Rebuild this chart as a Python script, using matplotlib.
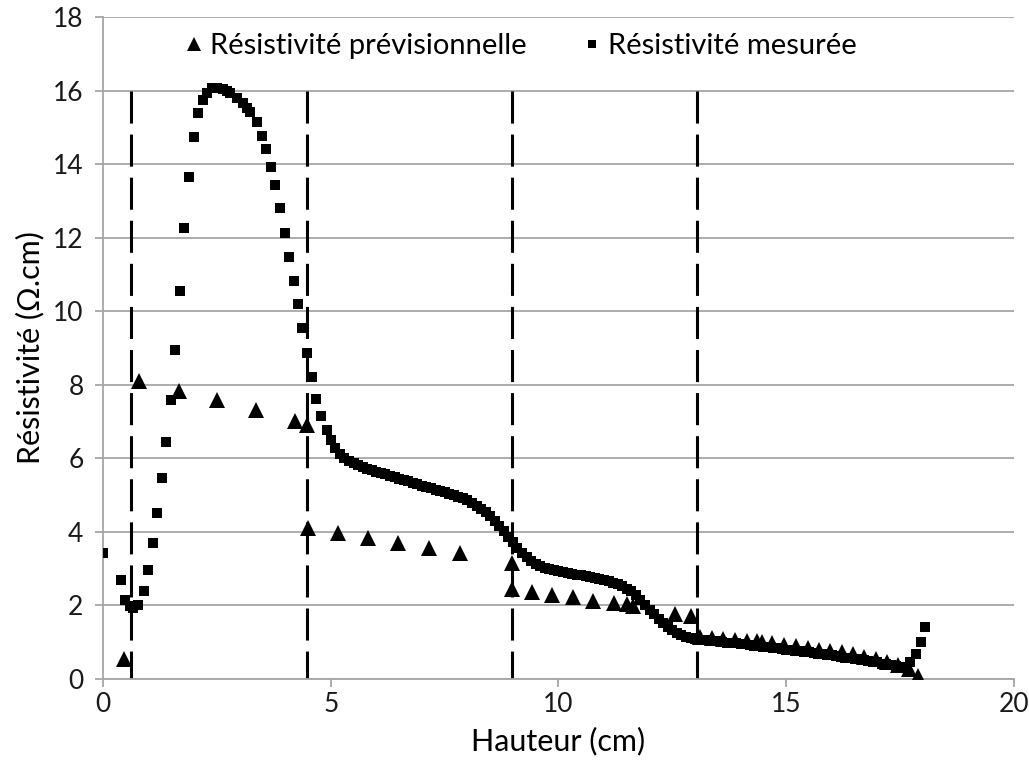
import matplotlib
matplotlib.use('Agg')
import matplotlib.pyplot as plt

plt.rcParams['font.family'] = ['Lato', 'DejaVu Sans']

# Résistivité prévisionnelle (triangles)
prev_x = [0.46, 0.79, 1.67, 2.50, 3.36, 4.21, 4.48, 4.50, 5.16, 5.82, 6.48, 7.16, 7.84,
          8.98, 8.98, 9.42, 9.86, 10.32, 10.76, 11.22, 11.50, 11.64, 12.56, 12.90,
          13.10, 13.37, 13.61, 13.87, 14.14, 14.36, 14.47, 14.69, 14.95, 15.21, 15.48,
          15.72, 15.96, 16.22, 16.46, 16.71, 16.97, 17.21, 17.46, 17.70, 17.90]
prev_y = [0.55, 8.10, 7.83, 7.59, 7.31, 7.01, 6.90, 4.10, 3.98, 3.84, 3.71, 3.56, 3.43,
          3.15, 2.45, 2.36, 2.29, 2.22, 2.13, 2.07, 2.03, 1.98, 1.77, 1.70,
          1.13, 1.11, 1.09, 1.07, 1.04, 1.02, 1.00, 0.97, 0.93, 0.89, 0.85,
          0.80, 0.76, 0.72, 0.67, 0.61, 0.54, 0.47, 0.38, 0.28, 0.08]

# Résistivité mesurée (squares)
mes_x = [0.00, 0.40, 0.48, 0.60, 0.66, 0.77, 0.90, 0.99, 1.10, 1.19, 1.30, 1.38, 1.49,
         1.58, 1.69, 1.78, 1.89, 2.00, 2.09, 2.20, 2.28, 2.39, 2.50, 2.63, 2.72, 2.79,
         2.94, 3.07, 3.16, 3.23, 3.38, 3.49, 3.58, 3.69, 3.78, 3.89, 4.00, 4.08, 4.19,
         4.28, 4.37, 4.48, 4.59, 4.68, 4.79, 4.92,
         5.0, 5.1, 5.2, 5.3, 5.4, 5.5, 5.6, 5.7, 5.8, 5.9,
         6.0, 6.1, 6.2, 6.3, 6.4, 6.5, 6.6, 6.7, 6.8, 6.9,
         7.0, 7.1, 7.2, 7.3, 7.4, 7.5, 7.6, 7.7, 7.8, 7.9,
         8.0, 8.1, 8.2, 8.3, 8.4, 8.5, 8.6, 8.7, 8.8, 8.9,
         9.0, 9.1, 9.2, 9.3, 9.4, 9.5, 9.6, 9.7, 9.8, 9.9,
         10.0, 10.1, 10.2, 10.3, 10.4, 10.5, 10.6, 10.7, 10.8, 10.9,
         11.0, 11.1, 11.2, 11.3, 11.4, 11.5, 11.6, 11.7, 11.8, 11.9,
         12.0, 12.1, 12.2, 12.3, 12.4, 12.5, 12.6, 12.7, 12.8, 12.9,
         13.0, 13.1, 13.2, 13.3, 13.4, 13.5, 13.6, 13.7, 13.8, 13.9,
         14.0, 14.1, 14.2, 14.3, 14.4, 14.5, 14.6, 14.7, 14.8, 14.9,
         15.0, 15.1, 15.2, 15.3, 15.4, 15.5, 15.6, 15.7, 15.8, 15.9,
         16.0, 16.1, 16.2, 16.3, 16.4, 16.5, 16.6, 16.7, 16.8, 16.9,
         17.0, 17.1, 17.2, 17.3, 17.4, 17.5, 17.6, 17.72, 17.84, 17.95, 18.05]
mes_y = [3.43, 2.69, 2.15, 1.98, 1.93, 2.01, 2.39, 2.96, 3.70, 4.51, 5.47, 6.44, 7.59,
         8.95, 10.55, 12.26, 13.65, 14.74, 15.39, 15.74, 15.93, 16.08, 16.08, 16.05, 15.98, 15.93,
         15.80, 15.66, 15.52, 15.42, 15.15, 14.76, 14.41, 13.92, 13.43, 12.81, 12.13, 11.47, 10.82,
         10.20, 9.54, 8.86, 8.20, 7.60, 7.15, 6.77,
         6.50, 6.28, 6.12, 6.01, 5.93, 5.87, 5.81, 5.76, 5.72, 5.68,
         5.64, 5.60, 5.56, 5.52, 5.49, 5.45, 5.41, 5.37, 5.33, 5.30,
         5.26, 5.22, 5.19, 5.15, 5.12, 5.08, 5.04, 5.00, 4.96, 4.91,
         4.86, 4.79, 4.71, 4.62, 4.53, 4.42, 4.29, 4.16, 4.02, 3.87,
         3.72, 3.57, 3.43, 3.31, 3.21, 3.13, 3.07, 3.03, 2.99, 2.96,
         2.93, 2.91, 2.88, 2.86, 2.84, 2.82, 2.79, 2.77, 2.74, 2.72,
         2.69, 2.66, 2.62, 2.58, 2.53, 2.46, 2.38, 2.27, 2.14, 2.00,
         1.88, 1.76, 1.64, 1.52, 1.42, 1.33, 1.26, 1.20, 1.15, 1.11,
         1.09, 1.07, 1.06, 1.05, 1.03, 1.02, 1.01, 0.99, 0.98, 0.97,
         0.95, 0.94, 0.92, 0.91, 0.89, 0.88, 0.86, 0.85, 0.83, 0.82,
         0.80, 0.79, 0.77, 0.76, 0.74, 0.72, 0.71, 0.69, 0.68, 0.66,
         0.64, 0.62, 0.60, 0.58, 0.56, 0.55, 0.53, 0.51, 0.49, 0.47,
         0.45, 0.42, 0.40, 0.37, 0.35, 0.32, 0.31, 0.45, 0.68, 1.00, 1.42]

# zone boundaries (dashed verticals)
limites = [0.615, 4.48, 8.98, 13.04]
limite_haut = 16

fig = plt.figure(figsize=(10.29, 7.72), dpi=100)
ax = fig.add_axes([0.1001, 0.1205, 0.8853, 0.8575])

for xl in limites:
    ax.plot([xl, xl], [limite_haut, 0], color='black', lw=2.2,
            linestyle=(0, (10.5, 3.6)), zorder=2)

ax.plot(prev_x, prev_y, linestyle='none', marker='^', ms=12, color='black',
        mew=0, label='Résistivité prévisionnelle', zorder=3)
ax.plot(mes_x, mes_y, linestyle='none', marker='s', ms=7, color='black',
        mew=0, label='Résistivité mesurée', zorder=3)

ax.set_xlim(0, 20)
ax.set_ylim(0, 18)
ax.set_xticks([0, 5, 10, 15, 20])
ax.set_yticks(range(0, 19, 2))
ax.grid(axis='y', color='#a6a6a6', lw=1.3)
ax.set_axisbelow(True)

for s in ['top', 'right']:
    ax.spines[s].set_visible(False)
for s in ['left', 'bottom']:
    ax.spines[s].set_color('#a6a6a6')
    ax.spines[s].set_linewidth(1.3)
ax.tick_params(axis='both', colors='#a6a6a6', labelcolor='#1a1a1a', labelsize=19,
               length=6, width=1.3)
ax.tick_params(axis='y', pad=8)

ax.set_xlabel('Hauteur (cm)', fontsize=22, labelpad=7)
ax.set_ylabel('Résistivité (Ω.cm)', fontsize=22, labelpad=6)

leg = ax.legend(loc='upper center', bbox_to_anchor=(0.455, 1.015), ncol=2, frameon=False,
                fontsize=21, handletextpad=0.0, columnspacing=1.7, markerscale=0.85,
                handlelength=1.1)

fig.savefig('out.png', dpi=100)
